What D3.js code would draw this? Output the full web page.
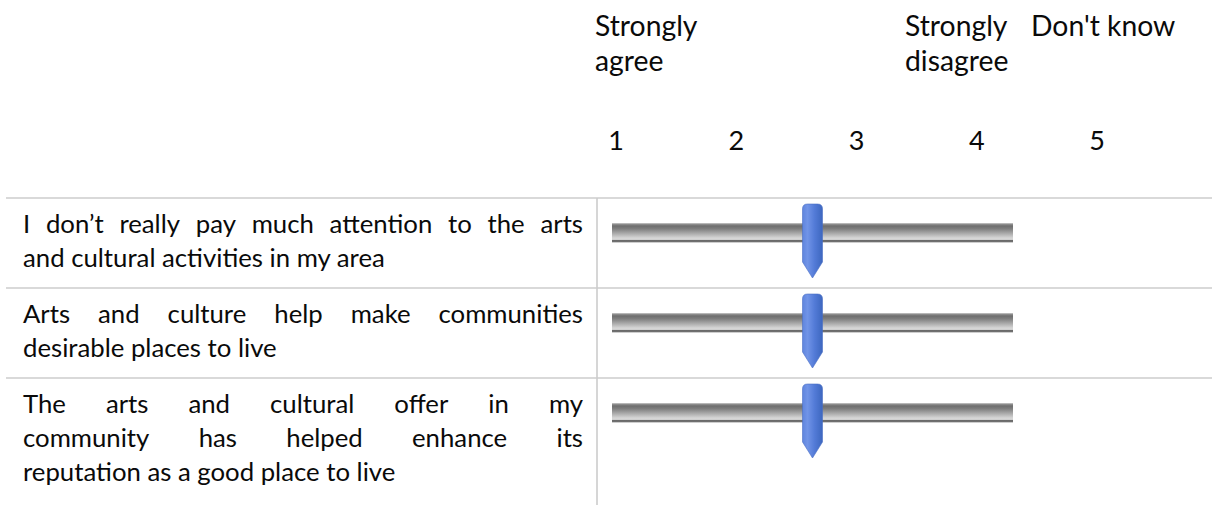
<!DOCTYPE html>
<html>
<head>
<meta charset="utf-8">
<script src="https://cdn.jsdelivr.net/npm/d3@7"></script>
<style>
  body { margin: 0; background: #fff; }
  text { font-family: Lato, "Open Sans", sans-serif; fill: #0a0a0a; }
</style>
</head>
<body>
<script>
const width = 1219, height = 505;

// scale points shown in the header
const scalePoints = [1, 2, 3, 4, 5];
// header captions (lines) and the x where each starts
const headerText = [["Strongly", "agree"], ["Strongly", "disagree"], ["Don't know"]];
const headerX = [595, 905, 1031];

// statements, already broken into lines as in the picture
const statements = [
  ["I don\u2019t really pay much attention to the arts", "and cultural activities in my area"],
  ["Arts and culture help make communities", "desirable places to live"],
  ["The arts and cultural offer in my", "community has helped enhance its", "reputation as a good place to live"]
];
// slider position for each statement (slider runs 1..4)
const ratings = [2.5, 2.5, 2.5];
const sliderDomain = [1, 4];

const textLeft = 23, textRight = 583;
const lineH = 34, tableTop = 198, colX = 597;

const svg = d3.select("body").append("svg")
  .attr("width", width)
  .attr("height", height);

// fit font size to the reference line width
const probe = svg.append("text").style("font-size", "100px").text(statements[0][1]);
const fontSize = 100 * 362 / probe.node().getComputedTextLength();
probe.remove();
svg.style("font-size", fontSize + "px");

const defs = svg.append("defs");
const barGrad = defs.append("linearGradient").attr("id", "barGrad")
  .attr("x1", 0).attr("y1", 0).attr("x2", 0).attr("y2", 1);
[[0, "#cfcfcf"], [0.07, "#8c8c8c"], [0.15, "#6e6e6e"], [0.28, "#7d7d7d"], [0.5, "#a6a6a6"],
 [0.76, "#d8d8d8"], [0.84, "#cdcdcd"], [0.87, "#6a6a6a"], [0.93, "#707070"], [0.96, "#c4c4c4"], [1, "#dedede"]]
  .forEach(s => barGrad.append("stop").attr("offset", s[0]).attr("stop-color", s[1]));

const knobGrad = defs.append("linearGradient").attr("id", "knobGrad")
  .attr("x1", 0).attr("y1", 0).attr("x2", 1).attr("y2", 0);
[[0, "#5f85de"], [0.25, "#7194e7"], [0.6, "#537bd7"], [1, "#3d67bf"]]
  .forEach(s => knobGrad.append("stop").attr("offset", s[0]).attr("stop-color", s[1]));

// header
const xScale = d3.scaleLinear().domain([1, 5]).range([616, 1097]);

headerText.forEach((lines, i) => {
  lines.forEach((l, j) => {
    svg.append("text")
      .attr("x", headerX[i]).attr("y", 36 + j * 35)
      .style("font-size", (fontSize * 1.1) + "px")
      .text(l);
  });
});

svg.selectAll(".num").data(scalePoints).join("text")
  .attr("class", "num")
  .attr("x", d => xScale(d))
  .attr("y", 150)
  .attr("text-anchor", "middle")
  .style("font-size", (fontSize * 1.05) + "px")
  .text(d => d);

// rows
let rowTop = tableTop;
const rows = statements.map(lines => {
  const r = {top: rowTop, h: lines.length * lineH + 22};
  rowTop += r.h;
  return r;
});

const sliderScale = d3.scaleLinear().domain(sliderDomain).range([622, 1003]);
const knobW = 20;

function drawLine(g, str, y, justify) {
  if (!justify) {
    g.append("text").attr("x", textLeft).attr("y", y).text(str);
    return;
  }
  const words = str.split(" ");
  const ws = words.map(w => {
    const t = g.append("text").text(w);
    const l = t.node().getComputedTextLength();
    t.remove();
    return l;
  });
  const gap = (textRight - textLeft - d3.sum(ws)) / (words.length - 1);
  let x = textLeft;
  words.forEach((w, i) => {
    g.append("text").attr("x", x).attr("y", y).text(w);
    x += ws[i] + gap;
  });
}

rows.forEach((r, i) => {
  // grid line above row
  svg.append("line")
    .attr("x1", 6).attr("x2", 1212)
    .attr("y1", r.top).attr("y2", r.top)
    .attr("stroke", "#cccccc").attr("stroke-width", 1.6);

  const g = svg.append("g");
  statements[i].forEach((l, j) => {
    drawLine(g, l, r.top + 35 + j * lineH, j < statements[i].length - 1);
  });

  // track
  svg.append("rect")
    .attr("x", sliderScale(sliderDomain[0]) - knobW / 2)
    .attr("y", r.top + 25)
    .attr("width", sliderScale(sliderDomain[1]) - sliderScale(sliderDomain[0]) + knobW)
    .attr("height", 20)
    .attr("fill", "url(#barGrad)");

  // knob
  const cx = sliderScale(ratings[i]), y0 = r.top + 6, hw = knobW / 2, rad = 5;
  const p = d3.path();
  p.moveTo(cx - hw, y0 + rad);
  p.quadraticCurveTo(cx - hw, y0, cx - hw + rad, y0);
  p.lineTo(cx + hw - rad, y0);
  p.quadraticCurveTo(cx + hw, y0, cx + hw, y0 + rad);
  p.lineTo(cx + hw, y0 + 58);
  p.lineTo(cx, y0 + 74);
  p.lineTo(cx - hw, y0 + 58);
  p.closePath();
  svg.append("path")
    .attr("d", p.toString())
    .attr("fill", "url(#knobGrad)")
    .attr("stroke", "#4a6fc4")
    .attr("stroke-width", 0.6);
});

// vertical divider
svg.append("line")
  .attr("x1", colX).attr("x2", colX)
  .attr("y1", tableTop).attr("y2", height)
  .attr("stroke", "#cccccc").attr("stroke-width", 1.6);
</script>
</body>
</html>
